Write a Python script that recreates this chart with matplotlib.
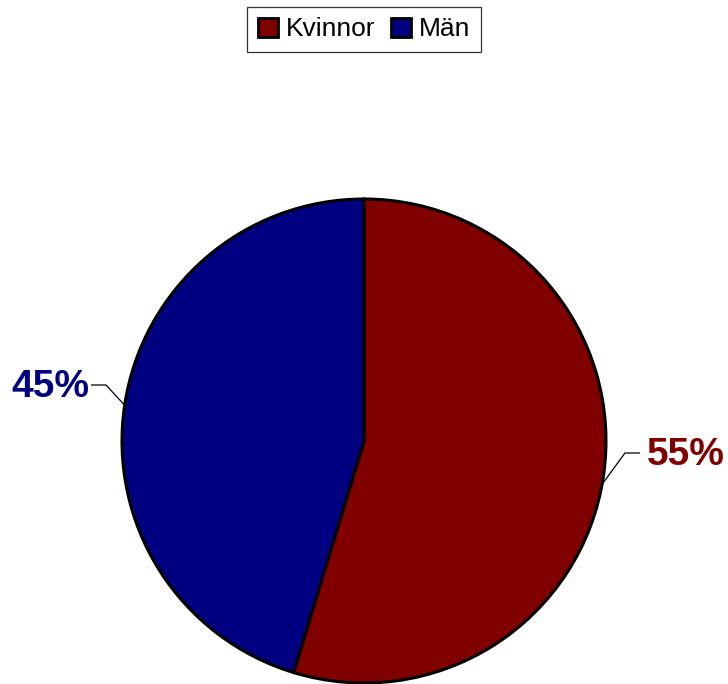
import matplotlib
matplotlib.use("Agg")
import matplotlib.pyplot as plt
from matplotlib.patches import Patch
import numpy as np

categories = ["Kvinnor", "Män"]
values = [54.7, 45.3]
colors = ["#800000", "#000080"]
labels = [f"{round(v)}%" for v in values]

plt.rcParams['font.family'] = ['Liberation Sans', 'DejaVu Sans']

W, H = 728, 684
fig = plt.figure(figsize=(W / 100, H / 100), dpi=100)
ax = fig.add_axes([0, 0, 1, 1])

cx, cy, r = 364, H - 441, 242
wedges, _ = ax.pie(values, colors=colors, startangle=90, counterclock=False,
                   center=(cx, cy), radius=r, frame=True,
                   wedgeprops=dict(edgecolor='black', linewidth=2.2))
ax.set_xlim(0, W)
ax.set_ylim(0, H)
ax.set_aspect('equal')
ax.axis('off')

# leader lines: start angle on the rim, elbow, end, label
leader = [
    dict(ang=-10.3, elbow=(625, H - 453), end=(640, H - 453), txt=(647, H - 455), ha='left'),
    dict(ang=171.5, elbow=(106, H - 385), end=(91, H - 385), txt=(89, H - 387), ha='right'),
]
for lab, col, ld in zip(labels, colors, leader):
    a = np.deg2rad(ld['ang'])
    x0, y0 = cx + r * np.cos(a), cy + r * np.sin(a)
    ax.plot([x0, ld['elbow'][0], ld['end'][0]], [y0, ld['elbow'][1], ld['end'][1]],
            color='black', lw=0.9, solid_capstyle='butt')
    ax.text(ld['txt'][0], ld['txt'][1], lab, color=col, fontsize=28, fontweight='bold',
            ha=ld['ha'], va='center')

handles = [Patch(facecolor=c, edgecolor='black', linewidth=2) for c in colors]
leg = fig.legend(handles, categories, loc='upper center', bbox_to_anchor=(0.5, 0.99),
                 ncol=2, fontsize=19, frameon=True, fancybox=False, edgecolor='black',
                 handlelength=0.75, handleheight=0.75, handletextpad=0.3, columnspacing=0.6,
                 borderpad=0.4, borderaxespad=0)
leg.get_frame().set_linewidth(0.9)

fig.savefig("out.png", dpi=100)
